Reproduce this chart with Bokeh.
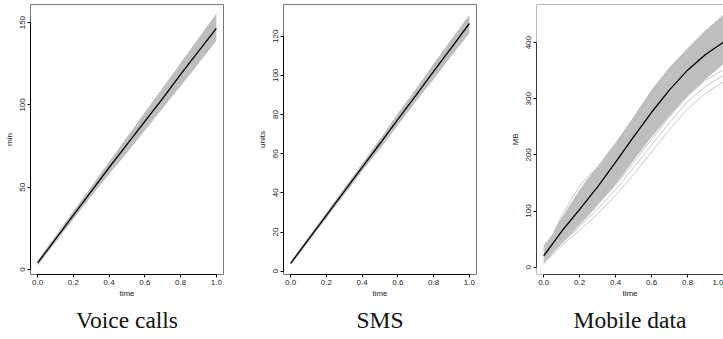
from bokeh.plotting import figure
from bokeh.layouts import row
from bokeh.models import FixedTicker, PrintfTickFormatter, Title, Span, Range1d
from bokeh.embed import file_html
from bokeh.resources import INLINE

# ---- data ----
T = [0.0, 0.1, 0.2, 0.3, 0.4, 0.5, 0.6, 0.7, 0.8, 0.9, 1.0]

voice_mean = [4.0, 18.5, 33.0, 47.5, 62.0, 76.0, 90.0, 104.0, 118.5, 132.5, 146.5]
voice_upper = [5.5, 20.5, 35.5, 50.5, 65.5, 80.5, 95.5, 110.5, 125.5, 140.5, 155.5]
voice_lower = [2.5, 16.5, 30.5, 44.5, 58.0, 71.0, 84.5, 98.0, 111.5, 125.0, 139.0]

sms_mean = [4.0, 16.2, 28.5, 40.7, 53.0, 65.2, 77.5, 89.7, 102.0, 114.2, 126.5]
sms_upper = [5.0, 17.5, 30.0, 42.5, 55.0, 67.5, 80.5, 93.0, 106.0, 118.5, 131.0]
sms_lower = [3.0, 15.0, 27.0, 39.0, 51.0, 62.5, 74.5, 86.5, 98.0, 110.0, 121.5]

T_mob = [0.0, 0.05, 0.1, 0.2, 0.25, 0.3, 0.4, 0.5, 0.6, 0.7, 0.8, 0.9, 1.0]
mob_mean = [20, 42, 64, 103, 123, 143, 187, 232, 276, 316, 351, 379, 401]
mob_upper = [38, 60, 88, 138, 160, 180, 222, 268, 316, 356, 390, 422, 450]
mob_lower = [5, 25, 42, 75, 92, 110, 148, 190, 232, 270, 305, 335, 362]
mob_extra_1 = [8, 22, 38, 66, 80, 95, 128, 165, 205, 245, 282, 310, 330]
mob_extra_2 = [12, 26, 42, 72, 88, 104, 138, 178, 218, 258, 295, 322, 342]
mob_extra_3 = [15, 30, 46, 78, 95, 112, 146, 186, 228, 268, 305, 333, 352]
mob_extra_4 = [30, 58, 92, 145, 163, 178, 210, 250, 298, 340, 378, 410, 440]

X_TICKS = [0.0, 0.2, 0.4, 0.6, 0.8, 1.0]
voice_yticks = [0, 50, 100, 150]
sms_yticks = [0, 20, 40, 60, 80, 100, 120]
mob_yticks = [0, 100, 200, 300, 400]

titles = ["Voice calls", "SMS", "Mobile data"]
ylabels = ["min", "units", "MB"]

BAND = "#BEBEBE"
FONT = "Liberation Sans"


def panel(t, mean, upper, lower, extras, yticks, yrange, ylabel, title,
          frame_w, xend, border_right, boxed, title_offset):
    p = figure(frame_width=frame_w, frame_height=270,
               min_border_left=30, min_border_right=border_right,
               min_border_top=4, min_border_bottom=65,
               x_range=Range1d(-0.04, xend), y_range=Range1d(*yrange),
               output_backend="svg", toolbar_location=None)
    p.grid.visible = False
    p.background_fill_color = "white"
    p.border_fill_color = "white"
    if boxed:
        p.outline_line_color = "#777777"
        p.outline_line_width = 1
    else:
        p.outline_line_color = None
        p.add_layout(Span(location=yrange[1], dimension="width",
                          line_color="#777777", line_width=1))
        p.add_layout(Span(location=-0.04, dimension="height",
                          line_color="#777777", line_width=1))
        p.add_layout(Span(location=yrange[0], dimension="width",
                          line_color="#777777", line_width=1))

    p.varea(x=t, y1=lower, y2=upper, fill_color=BAND)
    for e in extras:
        p.line(t, e, line_color="#C8C8C8", line_width=1)
    p.line(t, mean, line_color="black", line_width=1.3)

    xa = p.xaxis[0]
    xa.ticker = FixedTicker(ticks=X_TICKS)
    xa.formatter = PrintfTickFormatter(format="%.1f")
    xa.bounds = (0, 1)
    ya = p.yaxis[0]
    ya.ticker = FixedTicker(ticks=yticks)
    ya.bounds = (yticks[0], yticks[-1])
    ya.major_label_orientation = "vertical"
    for ax, lab in ((xa, "time"), (ya, ylabel)):
        ax.axis_label = lab
        ax.axis_line_color = "black"
        ax.axis_line_width = 1
        ax.major_tick_in = 0
        ax.major_tick_out = 3
        ax.minor_tick_in = 0
        ax.minor_tick_out = 0
        ax.major_tick_line_color = "black"
        ax.major_label_text_font = FONT
        ax.major_label_text_font_size = "8px"
        ax.major_label_text_color = "#222222"
        ax.axis_label_text_font = FONT
        ax.axis_label_text_font_size = "8px"
        ax.axis_label_text_font_style = "normal"
        ax.axis_label_text_color = "#222222"
        ax.major_label_standoff = 2
        ax.axis_label_standoff = 1
    ya.axis_label_standoff = 4

    p.add_layout(Title(text=title, align="center", offset=title_offset,
                       standoff=8, text_font="Liberation Serif",
                       text_font_size="23.5px", text_font_style="normal",
                       text_color="#111111"), "below")
    return p


p1 = panel(T, voice_mean, voice_upper, voice_lower, [], voice_yticks,
           (-3, 161), ylabels[0], titles[0], 193, 1.04, 30, True, -5.5)
p2 = panel(T, sms_mean, sms_upper, sms_lower, [], sms_yticks,
           (-1.7, 136.2), ylabels[1], titles[1], 193, 1.04, 30, True, -5.5)
p3 = panel(T_mob, mob_mean, mob_upper, mob_lower,
           [mob_extra_1, mob_extra_2, mob_extra_3, mob_extra_4], mob_yticks,
           (-13, 468), ylabels[2], titles[2], 187, 1.0, 0, False, -2.5)

layout = row(p1, p2, p3)
open("out.html", "w").write(file_html(layout, INLINE))
